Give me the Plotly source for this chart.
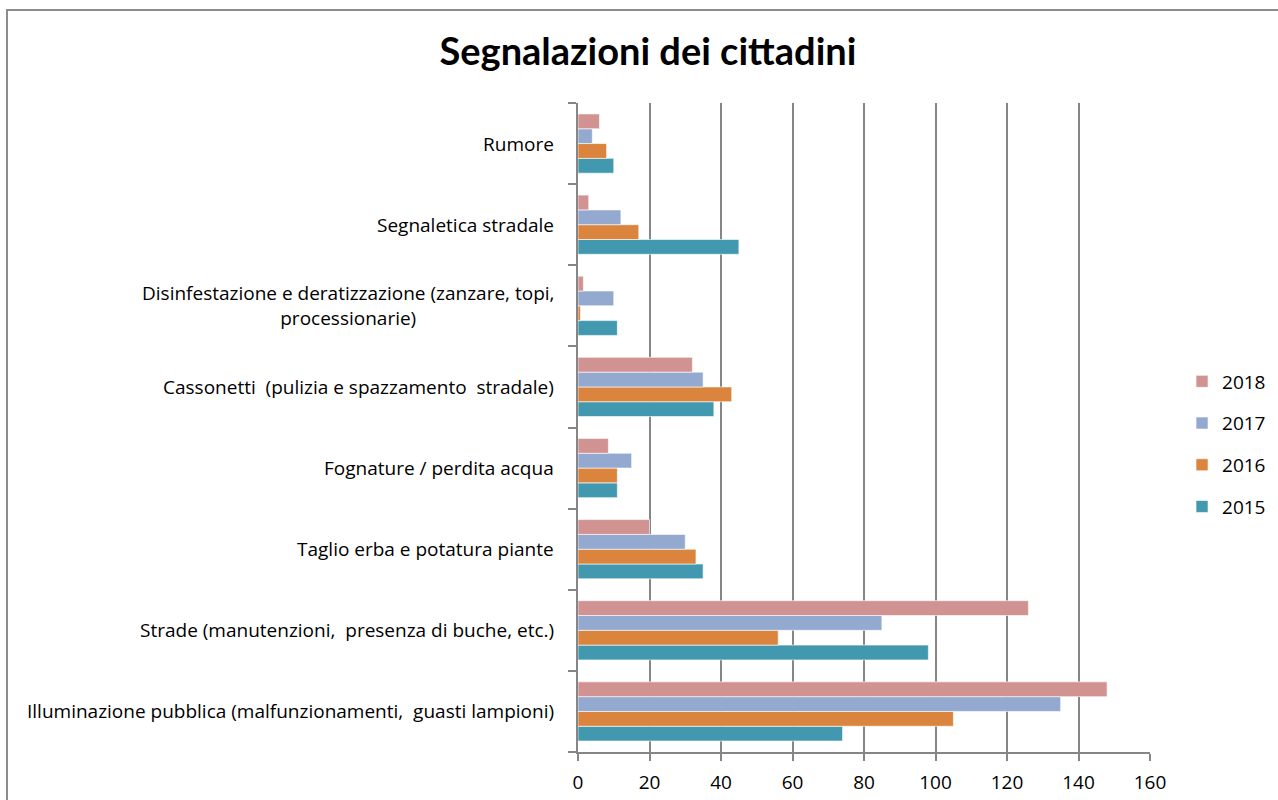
import plotly.graph_objects as go

# Categories, bottom to top as they appear on the vertical axis
categories = [
    "Illuminazione pubblica (malfunzionamenti,  guasti lampioni)",
    "Strade (manutenzioni,  presenza di buche, etc.)",
    "Taglio erba e potatura piante",
    "Fognature / perdita acqua",
    "Cassonetti  (pulizia e spazzamento  stradale)",
    "Disinfestazione e deratizzazione (zanzare, topi,<br>processionarie)",
    "Segnaletica stradale",
    "Rumore",
]

years = ["2015", "2016", "2017", "2018"]
v2015 = [74, 98, 35, 11, 38, 11, 45, 10]
v2016 = [105, 56, 33, 11, 43, 0.7, 17, 8]
v2017 = [135, 85, 30, 15, 35, 10, 12, 4]
v2018 = [148, 126, 20, 8.5, 32, 1.5, 3, 6]
series = [v2015, v2016, v2017, v2018]
colors = ["#4198AF", "#DB843D", "#93A9CF", "#D19392"]
legend_ranks = [4, 3, 2, 1]

x_ticks = [0, 20, 40, 60, 80, 100, 120, 140, 160]

FONT = "Open Sans, Calibri, Carlito, sans-serif"
TITLE_FONT = "Lato, Calibri, Carlito, sans-serif"
GRID = "#868686"
FS = 19

fig = go.Figure()
for name, vals, col, rank in zip(years, series, colors, legend_ranks):
    fig.add_trace(go.Bar(
        y=categories, x=vals, name=name, orientation="h",
        legendgroup=name, legendrank=rank,
        marker=dict(color=col, line=dict(color="rgba(255,255,255,0.6)", width=1)),
    ))

# Category labels, centred per line and right-aligned against the axis
annotations = []
for c in categories:
    annotations.append(dict(
        x=0, xref="paper", y=c, yref="y", text=c, showarrow=False,
        xanchor="right", yanchor="middle", align="center", xshift=-22,
        font=dict(family=FONT, size=FS, color="#000000"),
    ))

fig.update_layout(
    width=1278, height=800,
    margin=dict(l=578, r=128, t=103, b=48, autoexpand=False),
    paper_bgcolor="white", plot_bgcolor="white",
    barmode="group", bargap=0.27, bargroupgap=0,
    title=dict(text="<b>Segnalazioni dei cittadini</b>", x=0.507, xanchor="center",
               y=0.935, yanchor="middle",
               font=dict(family=TITLE_FONT, size=38, color="#000000")),
    font=dict(family=FONT, size=FS, color="#000000"),
    showlegend=True,
    legend=dict(traceorder="grouped", x=1.056, xanchor="left", y=0.4746, yanchor="middle",
                font=dict(family=FONT, size=FS, color="#000000"),
                itemwidth=30, tracegroupgap=14, bgcolor="rgba(0,0,0,0)"),
    annotations=annotations,
    xaxis=dict(range=[0, 160], tickvals=x_ticks, showgrid=True, gridcolor=GRID, gridwidth=1.5,
               showline=True, linecolor=GRID, linewidth=2, ticks="outside", ticklen=7,
               tickcolor=GRID, tickwidth=2, zeroline=False, ticklabelstandoff=5,
               tickfont=dict(family=FONT, size=FS, color="#000000")),
    yaxis=dict(categoryorder="array", categoryarray=categories, showticklabels=False,
               showline=True, linecolor=GRID, linewidth=2, ticks="outside", ticklen=8,
               tickcolor=GRID, tickwidth=2, tickson="boundaries", showgrid=False,
               range=[-0.5, len(categories) - 0.5]),
    shapes=[dict(type="rect", xref="paper", yref="paper",
                 x0=(7 - 578) / 572, x1=(1290 - 578) / 572,
                 y0=(752 - 820) / 649, y1=(752 - 10) / 649,
                 line=dict(color="#8C8C8C", width=2), fillcolor="rgba(0,0,0,0)", layer="below")],
)

fig.write_html("out.html")
